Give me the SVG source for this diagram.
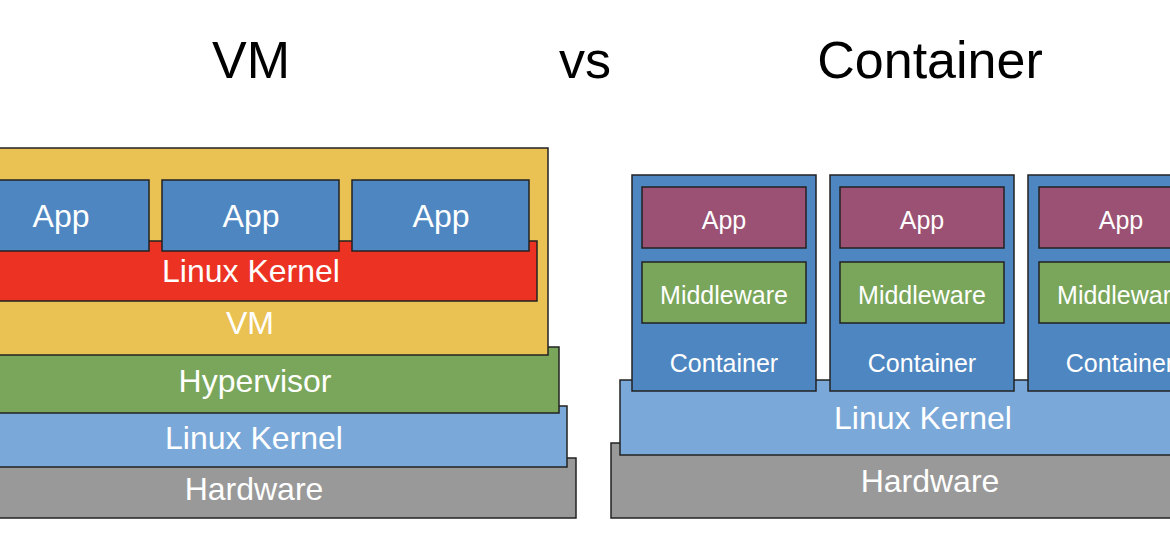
<svg xmlns="http://www.w3.org/2000/svg" width="1170" height="550" viewBox="0 0 1170 550">
<style>
.t{font-family:"Liberation Sans",Arial,sans-serif;fill:#fff;text-anchor:middle}
.big{font-size:32px}
.sm{font-size:25px}
.title{font-family:"Liberation Sans",Arial,sans-serif;font-size:52px;fill:#000;text-anchor:middle}
.box{stroke:#222;stroke-width:1.5}
.yel{fill:#EAC254}
.app{fill:#4E86C1}
.red{fill:#EC3223}
.grn{fill:#79A65A}
.lb{fill:#7AA8D8}
.gry{fill:#999999}
.pur{fill:#9A5173}
</style>
<g id="titles">
<text class="title" x="251" y="78">VM</text>
<text class="title" x="585" y="78">vs</text>
<text class="title" x="930" y="78">Container</text>
</g>
<g id="connectors"></g>
<g id="vm-hardware"><rect class="box gry" x="-10" y="458" width="586" height="60"/><text class="t big" x="254" y="500">Hardware</text></g>
<g id="vm-kernel"><rect class="box lb" x="-10" y="406" width="577" height="61"/><text class="t big" x="254" y="449">Linux Kernel</text></g>
<g id="hypervisor"><rect class="box grn" x="-10" y="347" width="569" height="66"/><text class="t big" x="255" y="392">Hypervisor</text></g>
<g id="vm"><rect class="box yel" x="-10" y="148" width="558" height="207"/><text class="t big" x="250" y="334">VM</text></g>
<g id="guest-kernel"><rect class="box red" x="-10" y="241" width="547" height="60"/><text class="t big" x="251" y="282">Linux Kernel</text></g>
<g id="vm-app1"><rect class="box app" x="-28" y="180" width="177" height="71"/><text class="t big" x="61" y="227">App</text></g>
<g id="vm-app2"><rect class="box app" x="162" y="180" width="177" height="71"/><text class="t big" x="251" y="227">App</text></g>
<g id="vm-app3"><rect class="box app" x="352" y="180" width="177" height="71"/><text class="t big" x="441" y="227">App</text></g>

<g id="c-hardware"><rect class="box gry" x="611" y="443" width="640" height="75"/><text class="t big" x="930" y="492">Hardware</text></g>
<g id="c-kernel"><rect class="box lb" x="620" y="380" width="620" height="75"/><text class="t big" x="923" y="429">Linux Kernel</text></g>
<g id="container1"><rect class="box app" x="632" y="175" width="184" height="216"/><text class="t sm" x="724" y="372">Container</text>
<rect class="box pur" x="642" y="187" width="164" height="61"/><text class="t sm" x="724" y="229">App</text>
<rect class="box grn" x="642" y="262" width="164" height="61"/><text class="t sm" x="724" y="304">Middleware</text></g>
<g id="container2"><rect class="box app" x="830" y="175" width="184" height="216"/><text class="t sm" x="922" y="372">Container</text>
<rect class="box pur" x="840" y="187" width="164" height="61"/><text class="t sm" x="922" y="229">App</text>
<rect class="box grn" x="840" y="262" width="164" height="61"/><text class="t sm" x="922" y="304">Middleware</text></g>
<g id="container3"><rect class="box app" x="1028" y="175" width="184" height="216"/><text class="t sm" x="1120" y="372">Container</text>
<rect class="box pur" x="1039" y="187" width="164" height="61"/><text class="t sm" x="1121" y="229">App</text>
<rect class="box grn" x="1039" y="262" width="164" height="61"/><text class="t sm" x="1121" y="304">Middleware</text></g>
</svg>
